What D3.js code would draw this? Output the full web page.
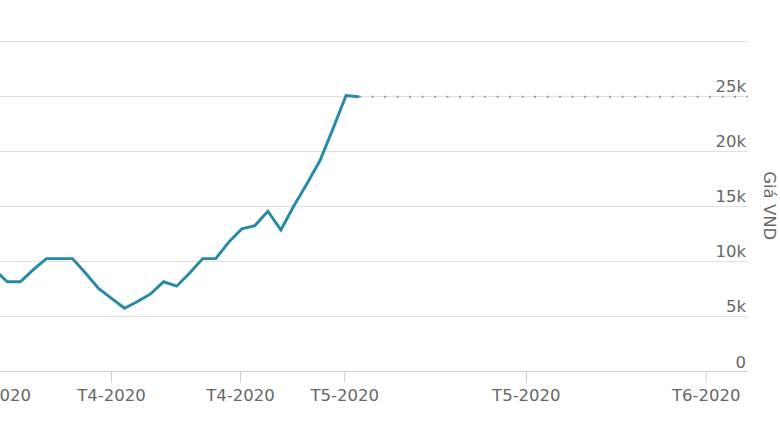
<!DOCTYPE html>
<html>
<head>
<meta charset="utf-8">
<script src="https://cdnjs.cloudflare.com/ajax/libs/d3/7.8.5/d3.min.js"></script>
<style>
  html, body { margin: 0; padding: 0; background: #ffffff; }
  svg { display: block; }
  text { font-family: "DejaVu Sans", Verdana, sans-serif; }
</style>
</head>
<body>
<svg id="chart" width="780" height="439"></svg>
<script>
// ---- data ----
// weekly price points (VND); first point sits just left of the visible area
const prices = [9200, 8100, 8100, 9200, 10200, 10200, 10200, 8900, 7500, 6600,
                5700, 6300, 7000, 8100, 7700, 8900, 10200, 10200, 11700, 12900,
                13200, 14500, 12800, 15000, 17000, 19100, 22000, 25000, 24900];
const firstIndex = -1;               // index of the first price point
const tickIndex = [-0.84, 7.96, 17.86, 25.86, 39.8, 53.6];
const tickLabels = ["T3-2020", "T4-2020", "T4-2020", "T5-2020", "T5-2020", "T6-2020"];
const yTicks = [0, 5000, 10000, 15000, 20000, 25000, 30000];
const yTickLabels = ["0", "5k", "10k", "15k", "20k", "25k", ""];
const axisTitle = "Giá VND";

// ---- layout ----
const W = 780, H = 439;
const plotLeft = 0, plotRight = 748, plotTop = 40.5, plotBottom = 371;

const x = d3.scaleLinear().domain([-0.56, 56.85]).range([plotLeft, plotRight]);
const y = d3.scaleLinear().domain([0, 30000]).range([plotBottom, plotTop]);

const svg = d3.select("#chart");

// grid lines
svg.append("g").selectAll("line").data(yTicks.slice(1)).join("line")
  .attr("x1", plotLeft).attr("x2", plotRight)
  .attr("y1", d => Math.round(y(d)) + 0.5).attr("y2", d => Math.round(y(d)) + 0.5)
  .attr("stroke", "#e0e0e0").attr("stroke-width", 1.2);

// right y labels
svg.append("g").selectAll("text").data(yTicks).join("text")
  .attr("x", 746).attr("y", d => y(d) - 3.5)
  .attr("text-anchor", "end")
  .attr("font-size", 16.5).attr("fill", "#666")
  .text((d, i) => yTickLabels[i]);

// y axis title
svg.append("text")
  .attr("transform", `translate(764, ${(plotTop + plotBottom) / 2}) rotate(90)`)
  .attr("text-anchor", "middle")
  .attr("font-size", 16.5).attr("fill", "#666")
  .text(axisTitle);

// x axis
const xAxis = d3.axisBottom(x)
  .tickValues(tickIndex)
  .tickFormat((d, i) => tickLabels[i])
  .tickSize(11)
  .tickPadding(7);
const gx = svg.append("g").attr("transform", `translate(0, ${plotBottom + 0.5})`).call(xAxis);
gx.select(".domain").attr("stroke", "#cccccc").attr("d", `M${plotLeft},0H${plotRight}`);
gx.selectAll(".tick line").attr("stroke", "#cccccc");
gx.selectAll(".tick text")
  .attr("font-family", "DejaVu Sans, Verdana, sans-serif")
  .attr("font-size", 16.5).attr("fill", "#666");

// last price dotted line
const lastI = firstIndex + prices.length - 1;
const lastV = prices[prices.length - 1];
svg.append("line")
  .attr("x1", x(lastI)).attr("x2", plotRight)
  .attr("y1", y(lastV)).attr("y2", y(lastV))
  .attr("stroke", "#999999").attr("stroke-width", 2)
  .attr("stroke-dasharray", "2,10.5");

// price line
const line = d3.line()
  .x((d, i) => x(firstIndex + i))
  .y(d => y(d));
svg.append("path")
  .datum(prices)
  .attr("d", line)
  .attr("fill", "none")
  .attr("stroke", "#2589a8")
  .attr("stroke-width", 2.9)
  .attr("stroke-linejoin", "miter");
</script>
</body>
</html>
